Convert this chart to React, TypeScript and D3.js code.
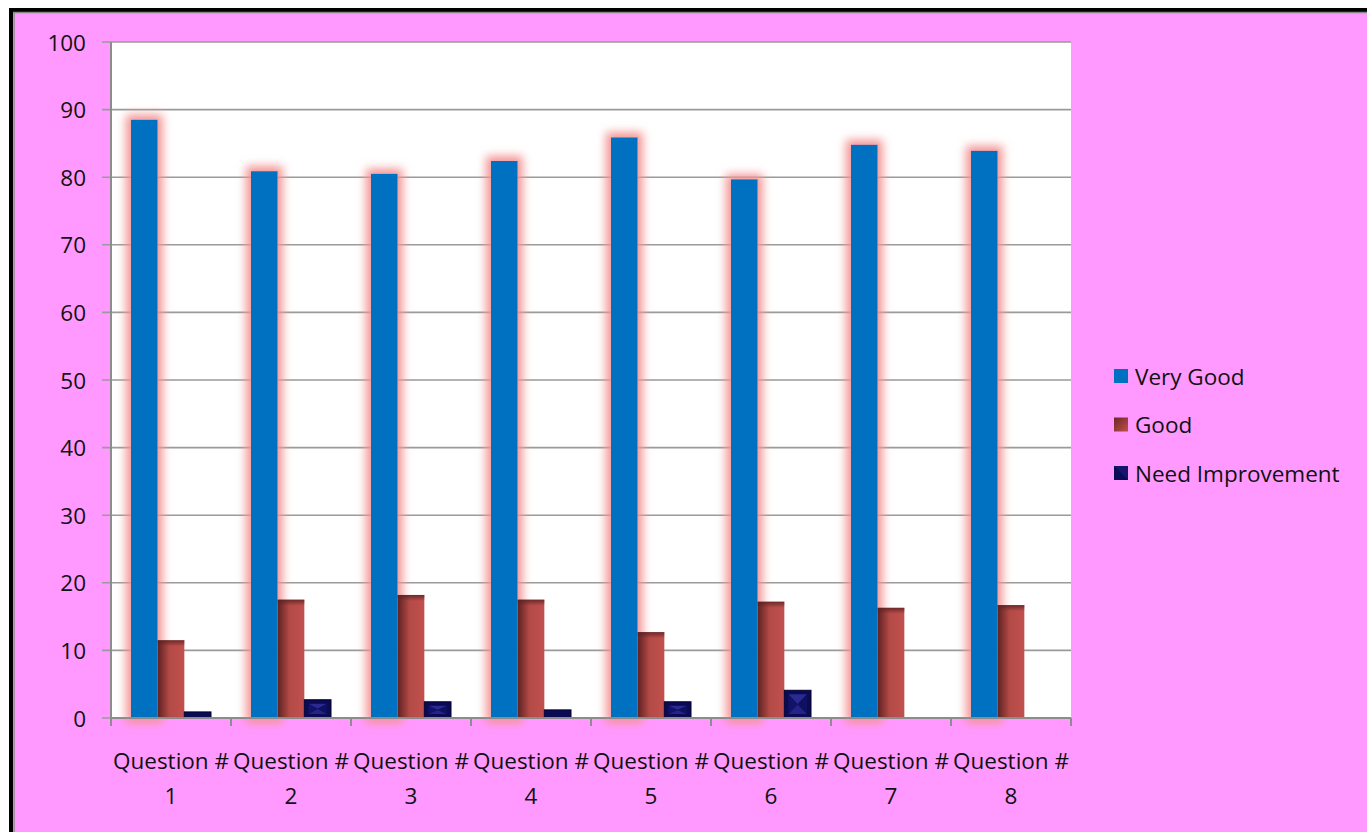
import * as d3 from "d3";

const categories = ["1", "2", "3", "4", "5", "6", "7", "8"];
const seriesNames = ["Very Good", "Good", "Need Improvement"];
const veryGood = [88.5, 80.9, 80.5, 82.4, 85.9, 79.7, 84.8, 83.9];
const good = [11.5, 17.5, 18.2, 17.5, 12.7, 17.2, 16.3, 16.7];
const needImprovement = [0.9, 2.7, 2.4, 1.2, 2.4, 4.1, 0, 0];
const yTicks = [0, 10, 20, 30, 40, 50, 60, 70, 80, 90, 100];

const W = 1367;
const H = 832;
const marginLeft = 111;
const marginRight = 1071;
const marginTop = 42;
const chartBottomY = 718;
const font = "'Open Sans', Lato, sans-serif";
const fs = 22.5;

const App = () => {
  const xScale = d3.scaleBand<string>().domain(categories).range([marginLeft, marginRight]);
  const inner = d3
    .scaleBand<string>()
    .domain(seriesNames)
    .range([0, xScale.bandwidth()])
    .paddingOuter(0.75);
  const yScale = d3.scaleLinear().domain([0, 100]).range([chartBottomY, marginTop]);
  const bw = inner.bandwidth();

  const rows = categories.map((c, i) => ({
    c,
    vals: [veryGood[i], good[i], needImprovement[i]],
  }));

  return (
    <svg
      width={W}
      height={H}
      viewBox={`0 0 ${W} ${H}`}
      style={{ position: "absolute", left: 0, top: 0, fontFamily: font }}
    >
      <defs>
        <filter id="glow" x="-80%" y="-20%" width="260%" height="140%">
          <feMorphology in="SourceAlpha" operator="dilate" radius="5" result="d" />
          <feGaussianBlur in="d" stdDeviation="5" result="b" />
          <feFlood floodColor="#f39494" result="f" />
          <feComposite in="f" in2="b" operator="in" result="g" />
          <feMerge>
            <feMergeNode in="g" />
            <feMergeNode in="SourceGraphic" />
          </feMerge>
        </filter>
        <linearGradient id="redGrad" x1="0" x2="1" y1="0" y2="0">
          <stop offset="0" stopColor="#5e2222" />
          <stop offset="0.45" stopColor="#b44a47" />
          <stop offset="1" stopColor="#c0504d" />
        </linearGradient>
        <linearGradient id="redTop" x1="0" x2="0" y1="0" y2="1">
          <stop offset="0" stopColor="#5a2020" stopOpacity="0.8" />
          <stop offset="1" stopColor="#5a2020" stopOpacity="0" />
        </linearGradient>
        <linearGradient id="legRed" x1="0" x2="1" y1="0" y2="1">
          <stop offset="0" stopColor="#6a2626" />
          <stop offset="1" stopColor="#c0504d" />
        </linearGradient>
      </defs>

      {/* background + frame */}
      <rect x={0} y={0} width={W} height={H} fill="#ffffff" />
      <rect x={14} y={12} width={W} height={H} fill="#ff99ff" />
      <line x1={11} x2={11} y1={8} y2={H} stroke="#000" strokeWidth={4} />
      <line x1={9} x2={W} y1={10} y2={10} stroke="#000" strokeWidth={4} />
      <line x1={14} x2={14} y1={12} y2={H} stroke="#888" strokeWidth={1.5} />
      <line x1={13} x2={W} y1={12.5} y2={12.5} stroke="#888" strokeWidth={1.5} />

      {/* plot area */}
      <rect
        x={marginLeft}
        y={marginTop}
        width={marginRight - marginLeft}
        height={chartBottomY - marginTop}
        fill="#ffffff"
      />
      <g className="grid">
        {yTicks.map((t) => (
          <g key={t}>
            <line
              x1={marginLeft - 9}
              x2={marginRight}
              y1={yScale(t)}
              y2={yScale(t)}
              stroke="#9a9a9a"
              strokeWidth={1.6}
            />
            <text
              x={86}
              y={yScale(t)}
              textAnchor="end"
              dominantBaseline="central"
              fontSize={fs}
              fill="#111"
            >
              {t}
            </text>
          </g>
        ))}
      </g>

      {/* bars */}
      {rows.map((r) => {
        const x0 = xScale(r.c)!;
        return (
          <g key={r.c}>
            {r.vals.map((v, si) => {
              const x = x0 + inner(seriesNames[si])!;
              const y = yScale(v);
              const h = chartBottomY - y;
              if (si === 0)
                return (
                  <rect key={si} x={x} y={y} width={bw} height={h} fill="#0070c0" filter="url(#glow)" />
                );
              if (si === 1)
                return (
                  <g key={si}>
                    <rect x={x} y={y} width={bw} height={h} fill="url(#redGrad)" />
                    <rect x={x} y={y} width={bw} height={Math.min(6, h)} fill="url(#redTop)" />
                  </g>
                );
              if (h <= 0) return null;
              const inset = Math.min(4, h / 2);
              const cx = x + bw / 2;
              const cy = y + h / 2;
              return (
                <g key={si}>
                  <rect x={x} y={y} width={bw} height={h} fill="#0a0a55" stroke="#000030" strokeWidth={1} />
                  <polygon
                    points={`${x + inset},${y + inset} ${x + bw - inset},${y + inset} ${cx},${cy}`}
                    fill="#2a2a90"
                  />
                  <polygon
                    points={`${x + inset},${y + h - inset} ${x + bw - inset},${y + h - inset} ${cx},${cy}`}
                    fill="#23238a"
                  />
                  <polygon
                    points={`${x + inset},${y + inset} ${x + inset},${y + h - inset} ${cx},${cy}`}
                    fill="#121268"
                  />
                  <polygon
                    points={`${x + bw - inset},${y + inset} ${x + bw - inset},${y + h - inset} ${cx},${cy}`}
                    fill="#101060"
                  />
                </g>
              );
            })}
          </g>
        );
      })}

      {/* axes */}
      <line x1={marginLeft} x2={marginLeft} y1={marginTop} y2={chartBottomY} stroke="#8c8c8c" strokeWidth={2} />
      <line x1={marginLeft} x2={marginRight} y1={chartBottomY} y2={chartBottomY} stroke="#8c8c8c" strokeWidth={2} />
      {[...categories.map((c) => xScale(c)!), marginRight].map((x, i) => (
        <line key={i} x1={x} x2={x} y1={chartBottomY} y2={chartBottomY + 8} stroke="#8c8c8c" strokeWidth={2} />
      ))}
      {categories.map((c) => {
        const cx = xScale(c)! + xScale.bandwidth() / 2;
        return (
          <g key={c} fontSize={fs} fill="#111" textAnchor="middle">
            <text x={cx} y={769}>
              Question #
            </text>
            <text x={cx} y={804}>
              {c}
            </text>
          </g>
        );
      })}

      {/* legend */}
      {seriesNames.map((s, i) => {
        const y = 376 + i * 48.5;
        return (
          <g key={s}>
            {i === 0 && <rect x={1114} y={y - 7} width={14} height={14} fill="#0070c0" />}
            {i === 1 && <rect x={1114} y={y - 7} width={14} height={14} fill="url(#legRed)" />}
            {i === 2 && (
              <g>
                <rect x={1114} y={y - 7} width={14} height={14} fill="#0a0a55" />
                <polygon points={`${1114},${y - 7} ${1128},${y + 7} ${1128},${y - 7}`} fill="#1c1c7a" opacity={0.6} />
              </g>
            )}
            <text x={1135} y={y} dominantBaseline="central" fontSize={fs} fill="#111">
              {s}
            </text>
          </g>
        );
      })}
    </svg>
  );
};

export default App;
